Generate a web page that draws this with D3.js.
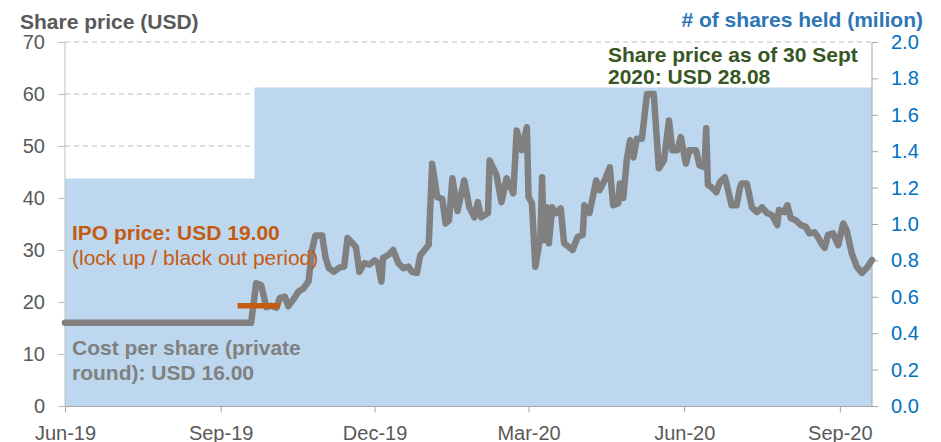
<!DOCTYPE html>
<html>
<head>
<meta charset="utf-8">
<script src="https://cdn.jsdelivr.net/npm/d3@7.9.0/dist/d3.min.js"></script>
<style>
  body { margin: 0; background: #fff; }
  svg { display: block; font-family: "Liberation Sans", Arial, sans-serif; }
</style>
</head>
<body>
<svg id="chart" width="941" height="442"></svg>
<script>
// share price (USD)
let priceDates = [
  "2019-06-01", "2019-09-19", "2019-09-22", "2019-09-25", "2019-09-28", "2019-10-01",
  "2019-10-04", "2019-10-06", "2019-10-09", "2019-10-11", "2019-10-14", "2019-10-17",
  "2019-10-20", "2019-10-23", "2019-10-25", "2019-10-27", "2019-10-31", "2019-11-02",
  "2019-11-04", "2019-11-07", "2019-11-10", "2019-11-13", "2019-11-15", "2019-11-18",
  "2019-11-20", "2019-11-22", "2019-11-25", "2019-11-28", "2019-12-01", "2019-12-03",
  "2019-12-05", "2019-12-06", "2019-12-09", "2019-12-12", "2019-12-15", "2019-12-18",
  "2019-12-21", "2019-12-23", "2019-12-26", "2019-12-28", "2019-12-31", "2020-01-02",
  "2020-01-04", "2020-01-07", "2020-01-10", "2020-01-12", "2020-01-14", "2020-01-16",
  "2020-01-19", "2020-01-21", "2020-01-23", "2020-01-26", "2020-01-29", "2020-01-31",
  "2020-02-02", "2020-02-06", "2020-02-07", "2020-02-11", "2020-02-14", "2020-02-17",
  "2020-02-21", "2020-02-23", "2020-02-26", "2020-02-29", "2020-03-01", "2020-03-03",
  "2020-03-05", "2020-03-08", "2020-03-09", "2020-03-10", "2020-03-12", "2020-03-13",
  "2020-03-15", "2020-03-17", "2020-03-20", "2020-03-22", "2020-03-27", "2020-03-30",
  "2020-04-02", "2020-04-03", "2020-04-06", "2020-04-10", "2020-04-12", "2020-04-15",
  "2020-04-18", "2020-04-20", "2020-04-23", "2020-04-24", "2020-04-26", "2020-04-28",
  "2020-04-30", "2020-05-02", "2020-05-04", "2020-05-07", "2020-05-10", "2020-05-14",
  "2020-05-17", "2020-05-20", "2020-05-23", "2020-05-25", "2020-05-28", "2020-05-30",
  "2020-06-02", "2020-06-04", "2020-06-08", "2020-06-10", "2020-06-13", "2020-06-14",
  "2020-06-15", "2020-06-17", "2020-06-20", "2020-06-22", "2020-06-25", "2020-06-26",
  "2020-06-29", "2020-07-02", "2020-07-04", "2020-07-05", "2020-07-08", "2020-07-11",
  "2020-07-14", "2020-07-17", "2020-07-20", "2020-07-23", "2020-07-26", "2020-07-27",
  "2020-07-30", "2020-08-01", "2020-08-03", "2020-08-06", "2020-08-09", "2020-08-12",
  "2020-08-14", "2020-08-17", "2020-08-19", "2020-08-21", "2020-08-23", "2020-08-25",
  "2020-08-28", "2020-08-31", "2020-09-03", "2020-09-05", "2020-09-08", "2020-09-11",
  "2020-09-14", "2020-09-17", "2020-09-20"
];
let priceValues = [
  16.0, 16.0, 23.6, 23.2, 19.0, 19.3,
  18.9, 20.8, 21.0, 19.2, 20.5, 22.0,
  22.6, 24.0, 30.0, 32.8, 32.8, 28.5,
  26.5, 25.8, 26.6, 26.8, 32.3, 31.3,
  30.5, 25.8, 27.5, 27.2, 28.0, 27.5,
  23.9, 28.5, 29.0, 30.0, 27.5, 26.5,
  26.8, 25.8, 25.6, 29.0, 30.2, 31.0,
  46.6, 40.2, 39.8, 35.1, 35.7, 43.8,
  37.5, 40.5, 43.4, 38.2, 36.3, 39.2,
  36.3, 37.1, 47.2, 44.5, 39.2, 43.8,
  40.9, 53.0, 49.2, 53.6, 40.2, 39.0,
  26.8, 32.5, 44.0, 31.9, 38.2, 31.3,
  38.2, 37.1, 38.0, 31.3, 30.0, 32.5,
  32.9, 38.6, 37.1, 43.4, 41.5, 43.4,
  45.9, 38.6, 39.0, 42.8, 40.0, 47.2,
  51.1, 47.8, 51.4, 51.4, 60.0, 60.0,
  45.7, 47.2, 54.9, 49.2, 49.2, 51.7,
  46.6, 49.2, 49.2, 46.3, 45.9, 53.4,
  42.5, 42.1, 41.1, 43.0, 44.0, 42.8,
  38.6, 38.6, 42.1, 42.8, 42.8, 38.2,
  37.3, 38.2, 37.1, 36.7, 34.8, 37.7,
  37.3, 38.6, 36.1, 35.7, 34.8, 34.4,
  33.2, 33.4, 32.5, 31.3, 30.4, 32.9,
  33.2, 30.9, 35.1, 33.8, 29.4, 26.8,
  25.6, 26.6, 28.08
];

// number of shares held (million), step series
let holdDates = ["2019-06-01", "2019-09-21", "2020-09-20"];
let holdValues = [1.25, 1.75, 1.75];

// IPO price marker
let ipoDates = ["2019-09-11", "2019-10-06"];
let ipoValues = [19.3, 19.3];

let xTickDates = ["2019-06-01", "2019-09-01", "2019-12-01", "2020-03-01", "2020-06-01", "2020-09-01"];
let leftTicks = [0, 10, 20, 30, 40, 50, 60, 70];
let rightTicks = [0, 0.2, 0.4, 0.6, 0.8, 1.0, 1.2, 1.4, 1.6, 1.8, 2.0];

let parse = d3.timeParse("%Y-%m-%d");
let price = priceDates.map((d, i) => ({ date: parse(d), value: priceValues[i] }));
let held = holdDates.map((d, i) => ({ date: parse(d), value: holdValues[i] }));
let ipo = ipoDates.map((d, i) => ({ date: parse(d), value: ipoValues[i] }));

let plotLeft = 65, plotRight = 872, plotTop = 42, plotBottom = 406;
let svg = d3.select("#chart");

let x = d3.scaleTime().domain([parse("2019-06-01"), parse("2020-09-20")]).range([plotLeft, plotRight]);
let yL = d3.scaleLinear().domain([0, 70]).range([plotBottom, plotTop]);
let yR = d3.scaleLinear().domain([0, 2]).range([plotBottom, plotTop]);

// gridlines (hidden under the area where it covers them)
svg.append("g")
  .selectAll("line")
  .data(leftTicks.filter(t => t > 0))
  .join("line")
  .attr("x1", plotLeft).attr("x2", plotRight)
  .attr("y1", d => yL(d)).attr("y2", d => yL(d))
  .attr("stroke", "#bfbfbf")
  .attr("stroke-dasharray", "5,4");

// shares held area
let area = d3.area()
  .curve(d3.curveStepAfter)
  .x(d => x(d.date))
  .y0(yR(0))
  .y1(d => yR(d.value));
svg.append("path").datum(held).attr("d", area).attr("fill", "#bdd7ee");

// axes
let leftAxis = svg.append("g")
  .attr("transform", `translate(${plotLeft},0)`)
  .call(d3.axisLeft(yL).tickValues(leftTicks).tickSize(7).tickPadding(13).tickFormat(d3.format("d")));
leftAxis.select(".domain").attr("stroke", "#bfbfbf").attr("d", `M0,${plotTop}V${plotBottom}`);
leftAxis.selectAll(".tick line").attr("stroke", "#bfbfbf");
leftAxis.selectAll("text").attr("fill", "#595959").style("font-size", "20px");

let rightAxis = svg.append("g")
  .attr("transform", `translate(${plotRight},0)`)
  .call(d3.axisRight(yR).tickValues(rightTicks).tickSize(6).tickPadding(13).tickFormat(d3.format(".1f")));
rightAxis.select(".domain").attr("stroke", "#a6a6a6").attr("d", `M0,${plotTop}V${plotBottom}`);
rightAxis.selectAll(".tick line").attr("stroke", "#a6a6a6");
rightAxis.selectAll("text").attr("fill", "#0070c0").style("font-size", "20px");

let bottomAxis = svg.append("g")
  .attr("transform", `translate(0,${plotBottom + 0.5})`)
  .call(d3.axisBottom(x).tickValues(xTickDates.map(parse)).tickSize(6).tickPadding(13).tickFormat(d3.timeFormat("%b-%y")));
bottomAxis.select(".domain").attr("stroke", "#a6a6a6").attr("d", `M${plotLeft},0H${plotRight}`);
bottomAxis.selectAll(".tick line").attr("stroke", "#a6a6a6");
bottomAxis.selectAll("text").attr("fill", "#595959").style("font-size", "20px");

// price line
let line = d3.line().x(d => x(d.date)).y(d => yL(d.value));
svg.append("path").datum(price)
  .attr("d", line)
  .attr("fill", "none")
  .attr("stroke", "#808080")
  .attr("stroke-width", 6.5)
  .attr("stroke-linejoin", "round")
  .attr("stroke-linecap", "round");

svg.append("path").datum(ipo)
  .attr("d", line)
  .attr("fill", "none")
  .attr("stroke", "#c55a11")
  .attr("stroke-width", 5.5);

// titles
svg.append("text").attr("x", 20).attr("y", 29)
  .attr("fill", "#595959").attr("font-weight", "bold").style("font-size", "21px")
  .text("Share price (USD)");
svg.append("text").attr("x", 923).attr("y", 27).attr("text-anchor", "end")
  .attr("fill", "#2e75b6").attr("font-weight", "bold").style("font-size", "21px")
  .text("# of shares held (milion)");

// annotations
function note(lines, xPos, yPos, color, weights, gap) {
  let t = svg.append("text").attr("fill", color).style("font-size", "21px");
  lines.forEach((s, i) => {
    t.append("tspan").attr("x", xPos).attr("y", yPos + i * gap)
      .attr("font-weight", weights[i]).text(s);
  });
}
note(["IPO price: USD 19.00", "(lock up / black out period)"], 72, 240, "#c55a11", ["bold", "normal"], 25);
note(["Cost per share (private", "round): USD 16.00"], 72, 355, "#808080", ["bold", "bold"], 25);
note(["Share price as of 30 Sept", "2020: USD 28.08"], 608, 62, "#375623", ["bold", "bold"], 21.5);
</script>
</body>
</html>
